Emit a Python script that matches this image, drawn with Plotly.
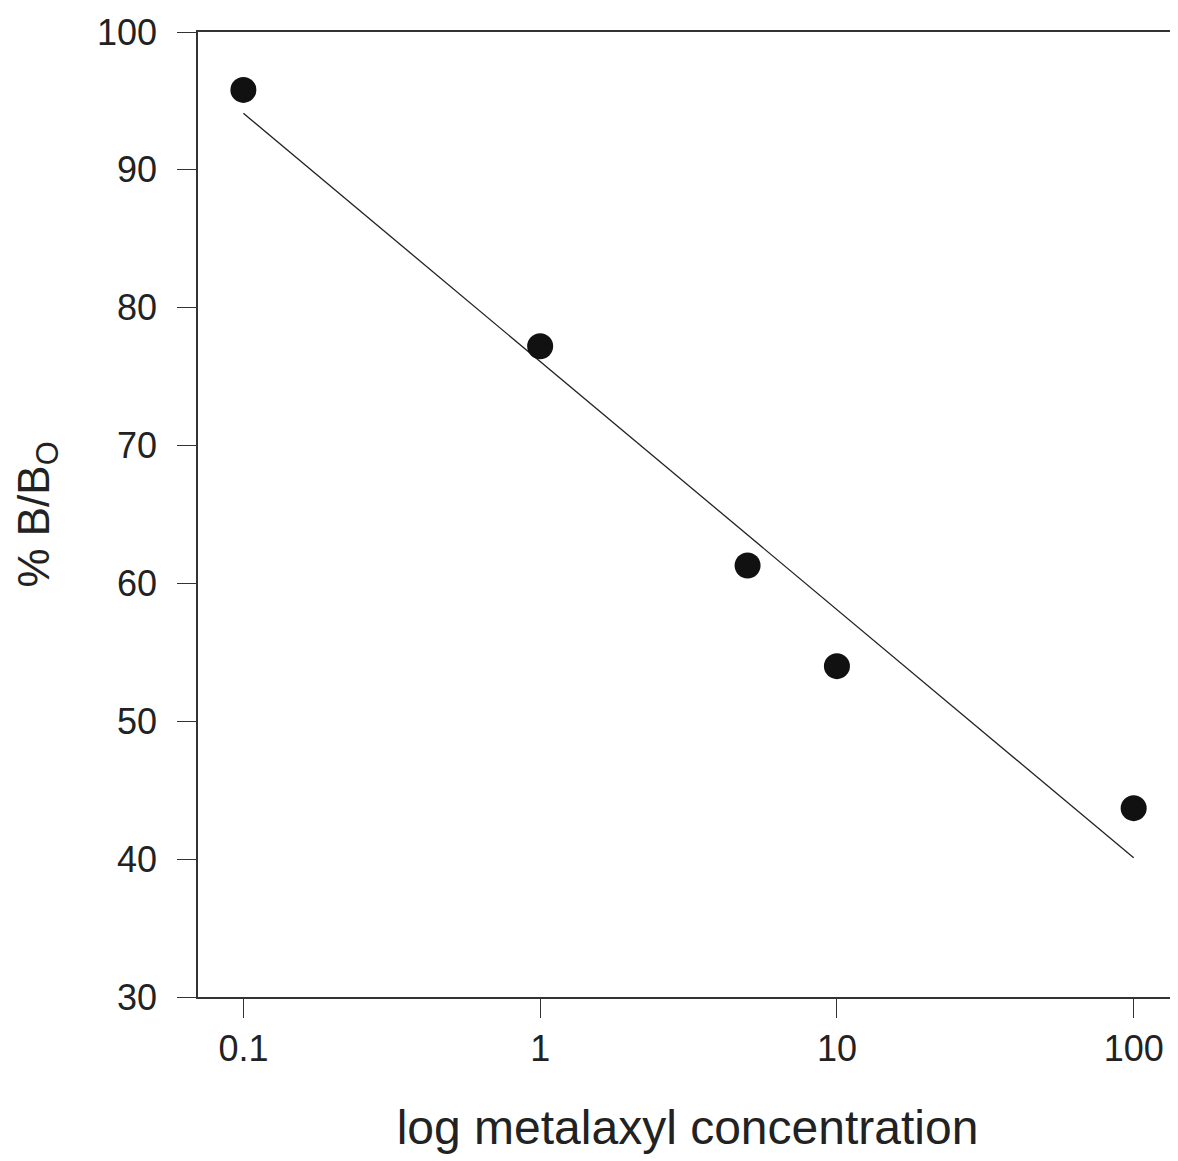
import plotly.graph_objects as go
import numpy as np

conc = [0.1, 1, 5, 10, 100]
pct_b_bo = [95.8, 77.2, 61.3, 54.0, 43.7]
fit_x = [0.1, 100]
fit_y = [94.1, 40.1]
x_ticks = [0.1, 1, 10, 100]
x_tick_labels = ["0.1", "1", "10", "100"]
y_ticks = [30, 40, 50, 60, 70, 80, 90, 100]

fig = go.Figure()
fig.add_trace(go.Scatter(x=fit_x, y=fit_y, mode="lines",
                         line=dict(color="#222", width=1.3), showlegend=False))
fig.add_trace(go.Scatter(x=conc, y=pct_b_bo, mode="markers",
                         marker=dict(color="#111", size=26), showlegend=False))

font_family = "Liberation Sans, Arial, sans-serif"
fig.update_layout(
    width=1178, height=1161,
    margin=dict(l=190, r=9, t=24, b=172, autoexpand=False),
    plot_bgcolor="white", paper_bgcolor="white",
    font=dict(family=font_family, color="#222"),
    xaxis=dict(type="log", range=[np.log10(0.1) - 0.153, np.log10(100) + 0.146],
               tickvals=x_ticks, ticktext=x_tick_labels,
               ticks="outside", ticklen=19, tickwidth=1.3, tickcolor="#333",
               showline=True, linecolor="#333", linewidth=1.5, mirror=True,
               showgrid=False, zeroline=False, automargin=False,
               ticklabeloverflow="allow",
               tickfont=dict(size=36),
               title=dict(text="log metalaxyl concentration", font=dict(size=48), standoff=42)),
    yaxis=dict(range=[30, 100], tickvals=y_ticks,
               ticks="outside", ticklen=19, tickwidth=1.3, tickcolor="#333",
               showline=True, linecolor="#333", linewidth=1.5, mirror=True,
               showgrid=False, zeroline=False, automargin=False,
               ticklabeloverflow="allow",
               tickfont=dict(size=36), ticklabelstandoff=13,
               title=dict(text="% B/B<sub>O</sub>", font=dict(size=44), standoff=34)),
)
fig.write_html("out.html")
